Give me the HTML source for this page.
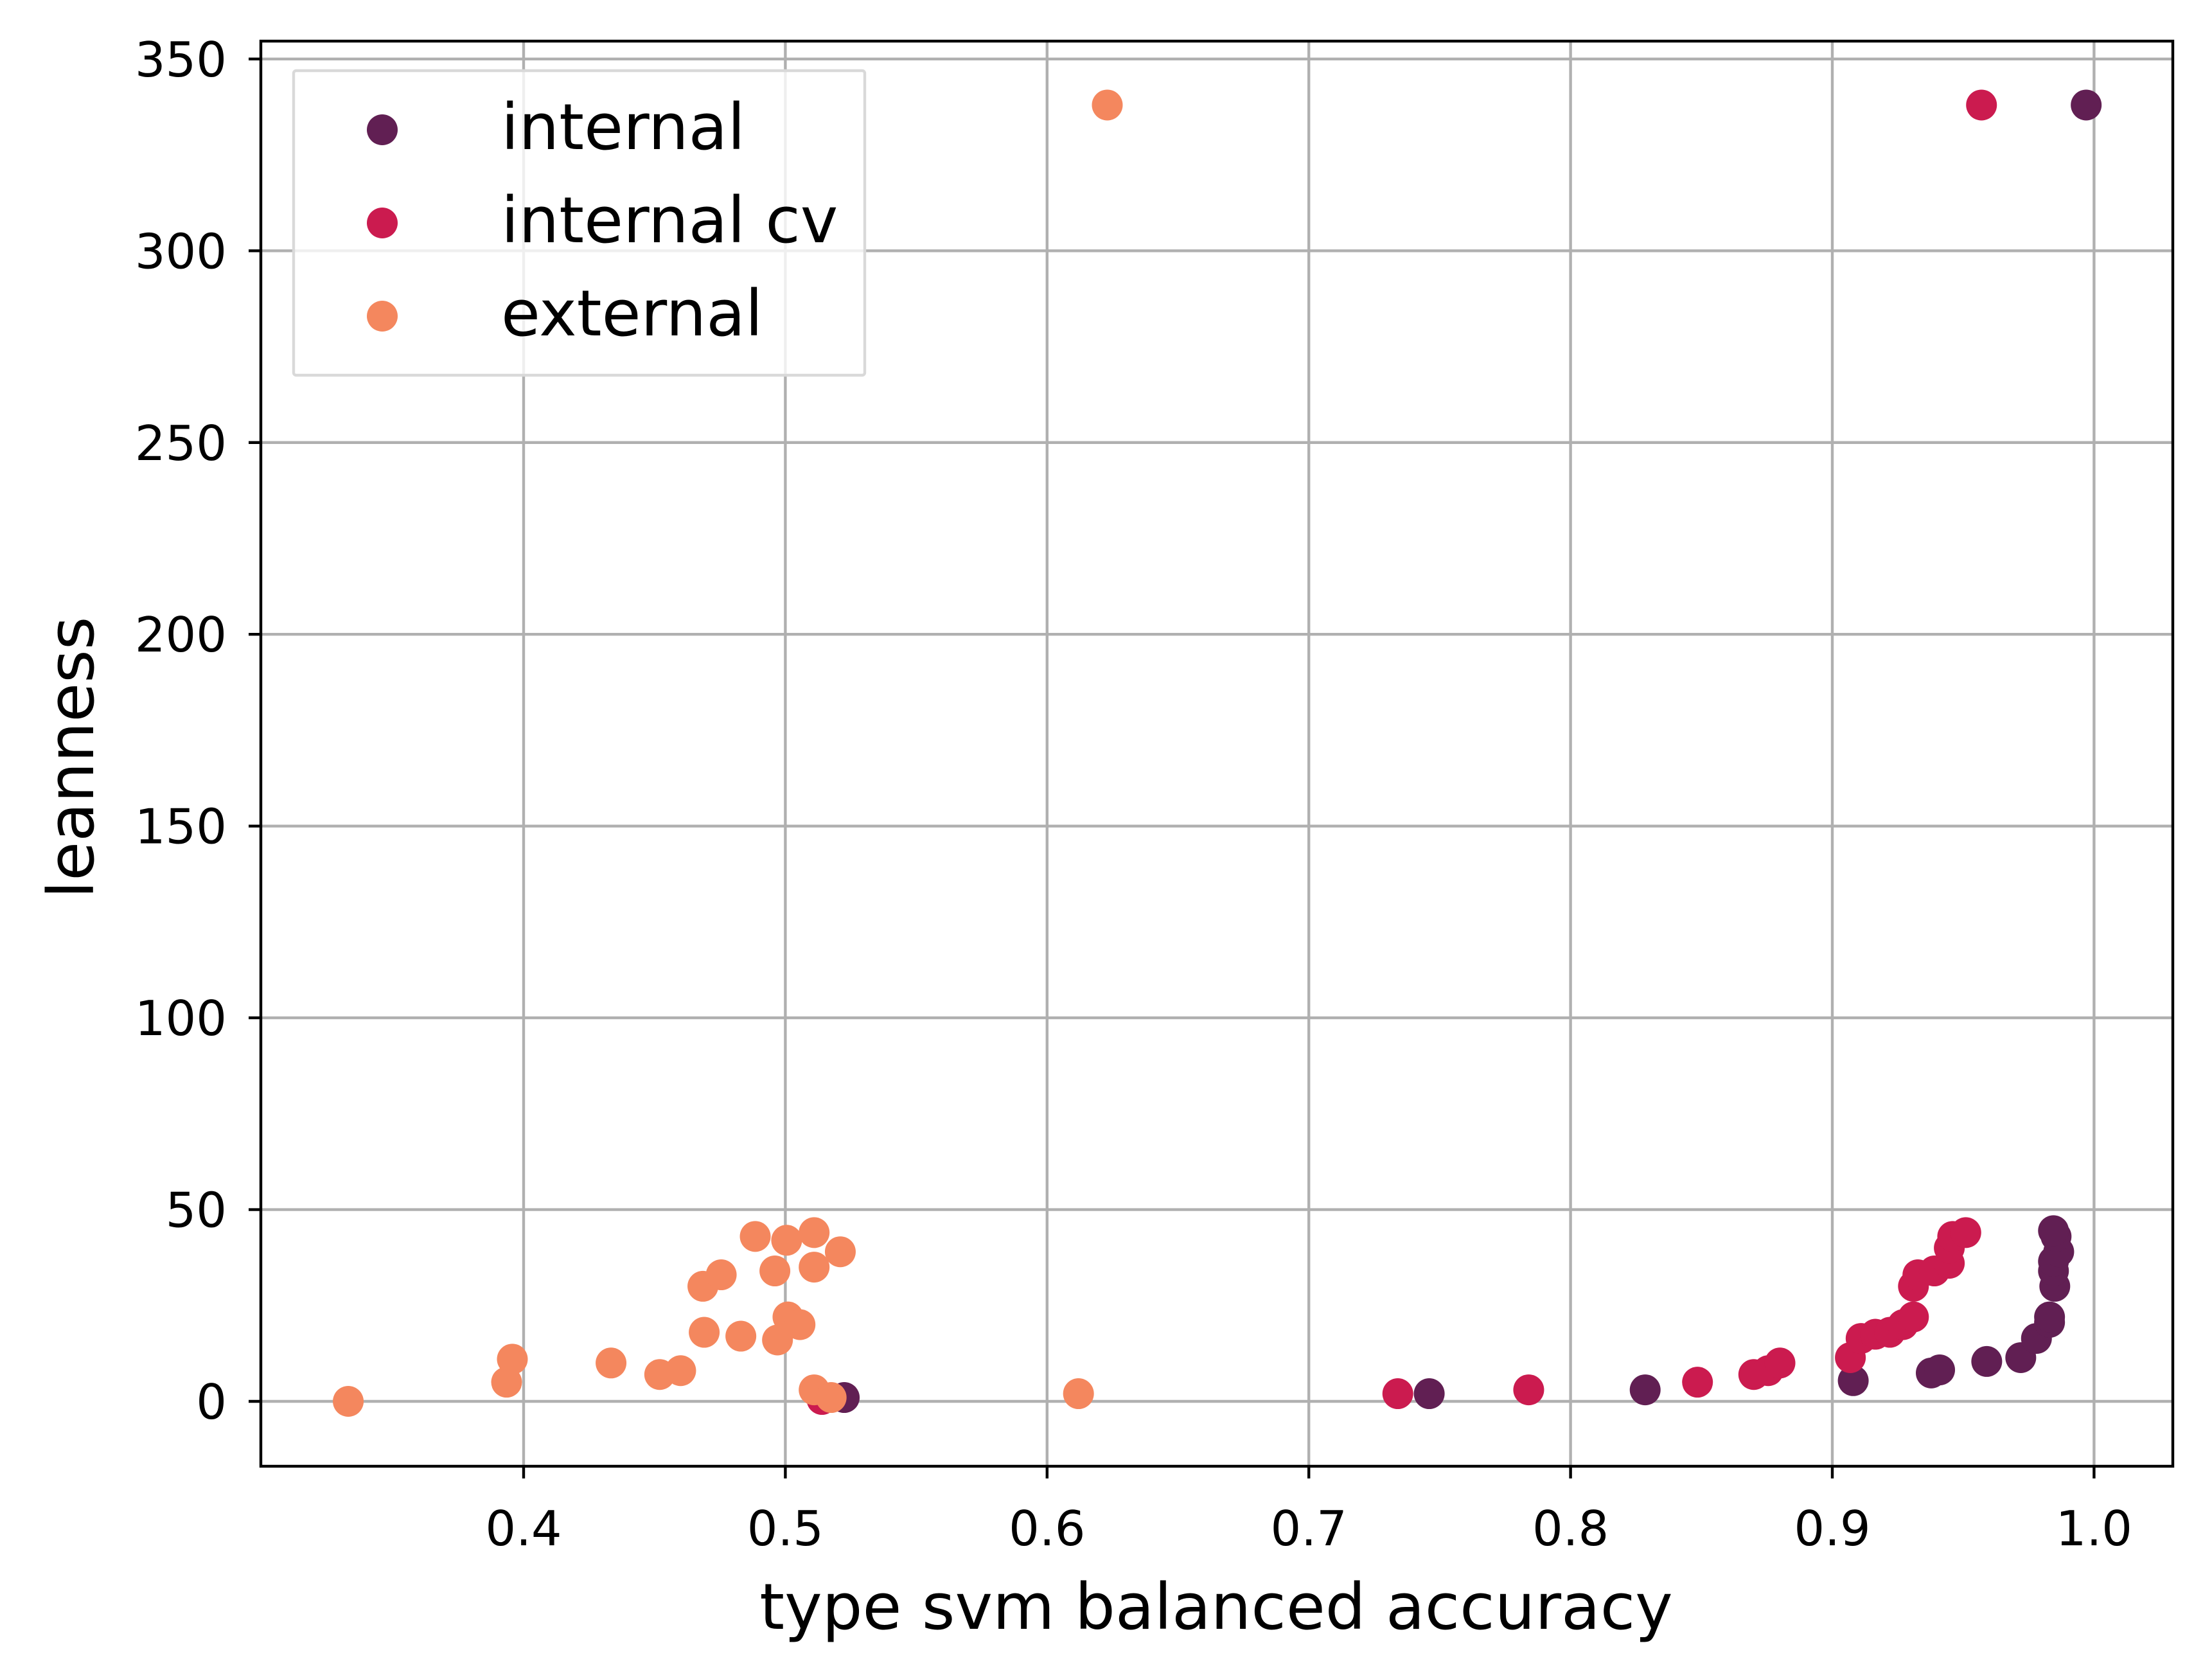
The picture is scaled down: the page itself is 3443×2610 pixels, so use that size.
<!DOCTYPE html>
<html><head><meta charset="utf-8"><style>
html,body{margin:0;padding:0;background:#fff;}
svg{display:block;font-family:"DejaVu Sans","Liberation Sans",sans-serif;}
</style></head><body>
<svg id="chart" width="3443" height="2610" viewBox="0 0 3443 2610" xmlns="http://www.w3.org/2000/svg">
<rect width="3443" height="2610" fill="#fff"/>
<g id="grid"></g>
<g id="points"></g>
<rect x="406" y="64" width="2976" height="2218" fill="none" stroke="#000" stroke-width="4.4"/>
<g id="ticks"></g>
<text x="1893" y="2535" font-size="99" text-anchor="middle">type svm balanced accuracy</text>
<text x="0" y="0" font-size="99" text-anchor="middle" transform="translate(145,1179) rotate(-90)">leanness</text>
<g>
<rect x="457" y="110" width="889" height="474" fill="#fff" fill-opacity="0.8" stroke="#d9d9d9" stroke-width="4.4" rx="4"/>
<g><circle cx="595" cy="202" r="24" fill="#611f53"/><text x="780" y="232" font-size="99">internal</text></g>
<g><circle cx="595" cy="347" r="24" fill="#cb1b4f"/><text x="780" y="377" font-size="99">internal cv</text></g>
<g><circle cx="595" cy="492" r="24" fill="#f4875e"/><text x="780" y="522" font-size="99">external</text></g>
</g>
</svg>
<script>
const xTicks = [0.4, 0.5, 0.6, 0.7, 0.8, 0.9, 1.0];
const xTickLabels = ["0.4","0.5","0.6","0.7","0.8","0.9","1.0"];
const yTicks = [0, 50, 100, 150, 200, 250, 300, 350];
const yTickLabels = ["0","50","100","150","200","250","300","350"];
const internalX = [0.997,0.5225,0.746,0.8285,0.908,0.9378,0.941,0.959,0.972,0.978,0.983,0.983,0.985,0.9845,0.9845,0.9865,0.9855,0.9845];
const internalY = [338,1,2,3,5.4,7.4,8.2,10.4,11.4,16.4,20.6,22,30,34,36.5,39,43,44.5];
const cvX = [0.957,0.514,0.734,0.784,0.8485,0.870,0.8755,0.880,0.9069,0.911,0.9165,0.922,0.927,0.931,0.931,0.9327,0.939,0.9447,0.9447,0.946,0.951];
const cvY = [338,0.5,2,3,5,7,8,10,11.4,16.4,17.5,18,20,22,30,33,34,36,40,43,44];
const externalX = [0.333,0.3935,0.3957,0.4334,0.452,0.460,0.4685,0.4755,0.469,0.483,0.4885,0.496,0.497,0.5005,0.501,0.5056,0.511,0.511,0.521,0.511,0.5175,0.612,0.623];
const externalY = [0,5,11,10,7,8,30,33,18,17,43,34,16,42,22,20,44,35,39,3,1,2,338];

const NS = "http://www.w3.org/2000/svg";
const L = 406, R = 3382, T = 64, B = 2282;
function xs(v){ return 815 + (v - 0.4) * 4074; }
function ys(v){ return 2181 - v * 5.969; }
const grid = document.getElementById('grid');
const ticks = document.getElementById('ticks');
const pts = document.getElementById('points');
function mk(tag, attrs, parent){ const e = document.createElementNS(NS, tag); for (const k in attrs) e.setAttribute(k, attrs[k]); parent.appendChild(e); return e; }

xTicks.forEach((v, i) => {
  const x = xs(v);
  const g = mk('line', {x1:x, x2:x, y1:T, y2:B, stroke:'#b0b0b0', 'stroke-width':4.4}, grid);
  
  
  const t = mk('line', {x1:x, x2:x, y1:B, y2:B+19, stroke:'#000', 'stroke-width':4.4}, ticks);
  
  
  const l = mk('text', {x:x, y:2405, 'font-size':75, 'text-anchor':'middle'}, ticks);
  l.textContent = xTickLabels[i];
  
  
});
yTicks.forEach((v, i) => {
  const y = ys(v);
  const g = mk('line', {x1:L, x2:R, y1:y, y2:y, stroke:'#b0b0b0', 'stroke-width':4.4}, grid);
  
  
  const t = mk('line', {x1:L-19, x2:L, y1:y, y2:y, stroke:'#000', 'stroke-width':4.4}, ticks);
  
  
  const l = mk('text', {x:353, y:y+27, 'font-size':75, 'text-anchor':'end'}, ticks);
  l.textContent = yTickLabels[i];
  
  
});
function series(X, Y, color, name){
  X.forEach((v, i) => {
    const c = mk('circle', {cx:xs(v), cy:ys(Y[i]), r:24, fill:color}, pts);
    
    
  });
}
series(internalX, internalY, '#611f53', 'point-internal');
series(cvX, cvY, '#cb1b4f', 'point-internal-cv');
series(externalX, externalY, '#f4875e', 'point-external');
</script>
</body></html>
